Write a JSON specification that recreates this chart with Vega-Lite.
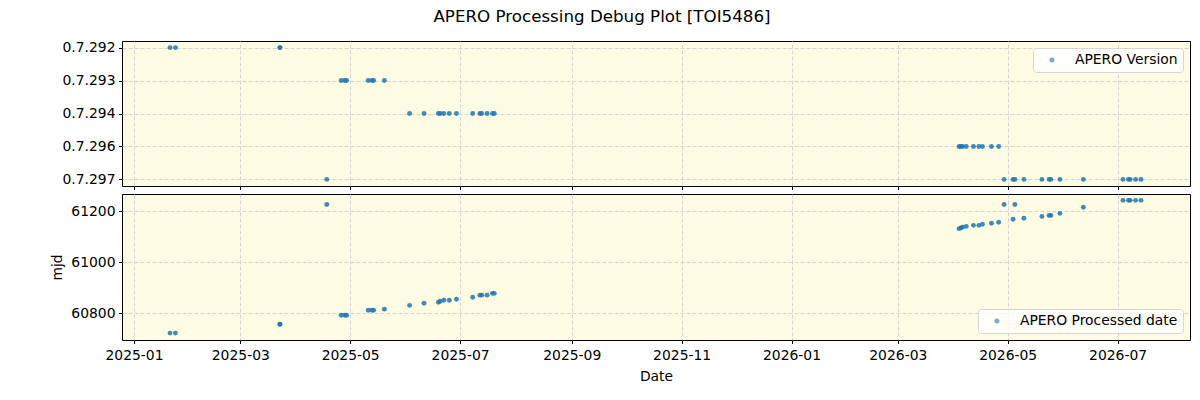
{
  "$schema": "https://vega.github.io/schema/vega-lite/v6.json",
  "padding": {"left": 50, "top": 9, "right": 5, "bottom": 5},
  "title": {"text": "APERO Processing Debug Plot [TOI5486]", "fontSize": 16.7, "font": "DejaVu Sans", "fontWeight": "normal", "anchor": "middle", "frame": "group", "dx": -54, "offset": 14, "color": "black"},
  "datasets": {
    "d": [
      {"date": "2025-01-21", "version": "0.7.292", "mjd": 60722},
      {"date": "2025-01-24", "version": "0.7.292", "mjd": 60722},
      {"date": "2025-03-23", "version": "0.7.292", "mjd": 60757},
      {"date": "2025-03-23", "version": "0.7.292", "mjd": 60757},
      {"date": "2025-04-18", "version": "0.7.297", "mjd": 61227},
      {"date": "2025-04-26", "version": "0.7.293", "mjd": 60792},
      {"date": "2025-04-28", "version": "0.7.293", "mjd": 60792},
      {"date": "2025-04-29", "version": "0.7.293", "mjd": 60792},
      {"date": "2025-05-11", "version": "0.7.293", "mjd": 60812},
      {"date": "2025-05-13", "version": "0.7.293", "mjd": 60812},
      {"date": "2025-05-14", "version": "0.7.293", "mjd": 60812},
      {"date": "2025-05-20", "version": "0.7.293", "mjd": 60816},
      {"date": "2025-06-03", "version": "0.7.294", "mjd": 60831},
      {"date": "2025-06-11", "version": "0.7.294", "mjd": 60839},
      {"date": "2025-06-19", "version": "0.7.294", "mjd": 60843},
      {"date": "2025-06-20", "version": "0.7.294", "mjd": 60847},
      {"date": "2025-06-22", "version": "0.7.294", "mjd": 60851},
      {"date": "2025-06-25", "version": "0.7.294", "mjd": 60851},
      {"date": "2025-06-29", "version": "0.7.294", "mjd": 60855},
      {"date": "2025-07-08", "version": "0.7.294", "mjd": 60863},
      {"date": "2025-07-12", "version": "0.7.294", "mjd": 60871},
      {"date": "2025-07-13", "version": "0.7.294", "mjd": 60871},
      {"date": "2025-07-16", "version": "0.7.294", "mjd": 60871},
      {"date": "2025-07-19", "version": "0.7.294", "mjd": 60878},
      {"date": "2025-07-20", "version": "0.7.294", "mjd": 60878},
      {"date": "2026-04-04", "version": "0.7.296", "mjd": 61132},
      {"date": "2026-04-05", "version": "0.7.296", "mjd": 61135},
      {"date": "2026-04-06", "version": "0.7.296", "mjd": 61138},
      {"date": "2026-04-08", "version": "0.7.296", "mjd": 61141},
      {"date": "2026-04-12", "version": "0.7.296", "mjd": 61145},
      {"date": "2026-04-15", "version": "0.7.296", "mjd": 61145},
      {"date": "2026-04-17", "version": "0.7.296", "mjd": 61149},
      {"date": "2026-04-22", "version": "0.7.296", "mjd": 61153},
      {"date": "2026-04-26", "version": "0.7.296", "mjd": 61157},
      {"date": "2026-04-29", "version": "0.7.297", "mjd": 61227},
      {"date": "2026-05-04", "version": "0.7.297", "mjd": 61169},
      {"date": "2026-05-05", "version": "0.7.297", "mjd": 61227},
      {"date": "2026-05-10", "version": "0.7.297", "mjd": 61173},
      {"date": "2026-05-20", "version": "0.7.297", "mjd": 61180},
      {"date": "2026-05-24", "version": "0.7.297", "mjd": 61184},
      {"date": "2026-05-25", "version": "0.7.297", "mjd": 61184},
      {"date": "2026-05-30", "version": "0.7.297", "mjd": 61192},
      {"date": "2026-06-12", "version": "0.7.297", "mjd": 61216},
      {"date": "2026-07-04", "version": "0.7.297", "mjd": 61243},
      {"date": "2026-07-07", "version": "0.7.297", "mjd": 61243},
      {"date": "2026-07-08", "version": "0.7.297", "mjd": 61243},
      {"date": "2026-07-11", "version": "0.7.297", "mjd": 61243},
      {"date": "2026-07-14", "version": "0.7.297", "mjd": 61243}
    ]
  },
  "data": {"name": "d"},
  "spacing": 8,
  "bounds": "flush",
  "resolve": {"scale": {"color": "independent", "x": "independent", "y": "independent"}, "legend": {"color": "independent"}},
  "vconcat": [
    {
      "width": 1068,
      "height": 145,
      "mark": {"type": "point", "filled": true, "size": 24, "opacity": 0.85},
      "encoding": {
        "x": {
          "field": "date", "type": "temporal",
          "scale": {"type": "utc", "domain": [{"year": 2024, "month": 12, "date": 25, "hours": 8, "utc": true}, {"year": 2026, "month": 8, "date": 10, "hours": 5, "utc": true}]},
          "axis": {"labels": false, "title": null, "values": [
            {"year": 2025, "month": 1, "date": 1, "utc": true},
            {"year": 2025, "month": 3, "date": 1, "utc": true},
            {"year": 2025, "month": 5, "date": 1, "utc": true},
            {"year": 2025, "month": 7, "date": 1, "utc": true},
            {"year": 2025, "month": 9, "date": 1, "utc": true},
            {"year": 2025, "month": 11, "date": 1, "utc": true},
            {"year": 2026, "month": 1, "date": 1, "utc": true},
            {"year": 2026, "month": 3, "date": 1, "utc": true},
            {"year": 2026, "month": 5, "date": 1, "utc": true},
            {"year": 2026, "month": 7, "date": 1, "utc": true}
          ]}
        },
        "y": {
          "field": "version", "type": "nominal",
          "scale": {"type": "point", "padding": 0.2, "domain": ["0.7.292", "0.7.293", "0.7.294", "0.7.296", "0.7.297"]},
          "axis": {"title": null}
        },
        "color": {
          "datum": "APERO Version", "type": "nominal",
          "scale": {"range": ["#1f77b4"]},
          "legend": {"title": null, "orient": "top-right", "offset": 7}
        }
      }
    },
    {
      "width": 1068,
      "height": 146,
      "mark": {"type": "point", "filled": true, "size": 24, "opacity": 0.85},
      "encoding": {
        "x": {
          "field": "date", "type": "temporal",
          "scale": {"type": "utc", "domain": [{"year": 2024, "month": 12, "date": 25, "hours": 8, "utc": true}, {"year": 2026, "month": 8, "date": 10, "hours": 5, "utc": true}]},
          "axis": {"title": "Date", "format": "%Y-%m", "titlePadding": 8, "labelPadding": 4.5, "values": [
            {"year": 2025, "month": 1, "date": 1, "utc": true},
            {"year": 2025, "month": 3, "date": 1, "utc": true},
            {"year": 2025, "month": 5, "date": 1, "utc": true},
            {"year": 2025, "month": 7, "date": 1, "utc": true},
            {"year": 2025, "month": 9, "date": 1, "utc": true},
            {"year": 2025, "month": 11, "date": 1, "utc": true},
            {"year": 2026, "month": 1, "date": 1, "utc": true},
            {"year": 2026, "month": 3, "date": 1, "utc": true},
            {"year": 2026, "month": 5, "date": 1, "utc": true},
            {"year": 2026, "month": 7, "date": 1, "utc": true}
          ]}
        },
        "y": {
          "field": "mjd", "type": "quantitative",
          "scale": {"domain": [60695, 61268], "nice": false, "zero": false},
          "axis": {"title": "mjd", "values": [60800, 61000, 61200], "format": "d", "titlePadding": 6}
        },
        "color": {
          "datum": "APERO Processed date", "type": "nominal",
          "scale": {"range": ["#1f77b4"]},
          "legend": {"title": null, "orient": "bottom-right", "offset": 7}
        }
      }
    }
  ],
  "config": {
    "font": "DejaVu Sans",
    "background": "white",
    "view": {"stroke": "black", "strokeWidth": 1, "fill": "#fdfbe1"},
    "axis": {
      "labelFont": "DejaVu Sans", "labelFontSize": 13.9, "labelColor": "black",
      "titleFont": "DejaVu Sans", "titleFontSize": 13.9, "titleFontWeight": "normal", "titleColor": "black",
      "tickColor": "black", "tickSize": 3.5, "tickWidth": 1, "labelPadding": 3.5,
      "domain": false, "grid": true, "gridColor": "#cfcfd6", "gridDash": [4, 2], "gridWidth": 0.9,
      "labelFlush": false, "labelOverlap": false
    },
    "legend": {
      "fillColor": "rgba(255,255,255,0.8)", "strokeColor": "#d6d6d6", "cornerRadius": 3, "padding": 5,
      "symbolType": "circle", "symbolSize": 25, "symbolOpacity": 0.6, "symbolOffset": 7, "labelOffset": 16,
      "labelFont": "DejaVu Sans", "labelFontSize": 13.9, "labelColor": "black", "rowPadding": 0
    }
  }
}
